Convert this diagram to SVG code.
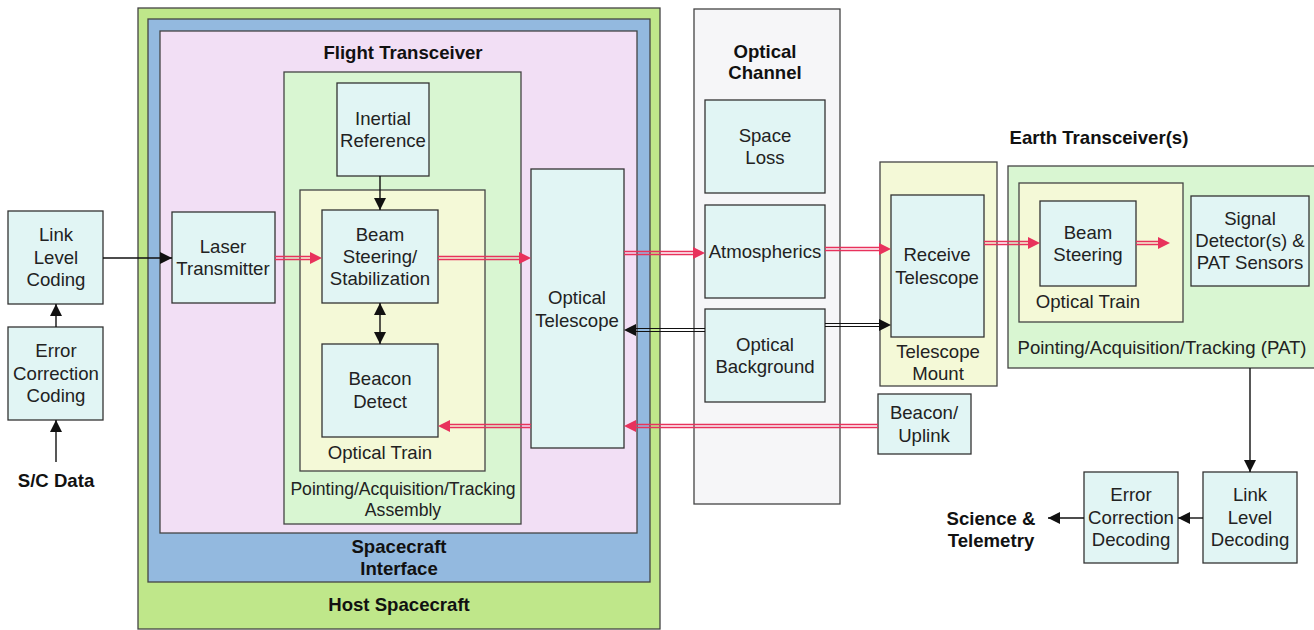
<svg xmlns="http://www.w3.org/2000/svg" width="1314" height="630" viewBox="0 0 1314 630">
<defs>
<style>
.box{fill:#e1f5f4;stroke:#333;stroke-width:1.3}
.t{font-family:"Liberation Sans",Arial,sans-serif;font-size:18.6px;fill:#222;text-anchor:middle}
.b{font-family:"Liberation Sans",Arial,sans-serif;font-size:18.6px;font-weight:bold;fill:#111;text-anchor:middle}
.cont{stroke:#444;stroke-width:1.3}
.blk{stroke:#111;stroke-width:1.4;fill:none}
.red{stroke:#e8325c;stroke-width:1.3;fill:none}
.dbl{stroke:#111;stroke-width:1.1;fill:none}
</style>
<marker id="ab" viewBox="0 0 12 12" refX="12" refY="6" markerWidth="12" markerHeight="12" markerUnits="userSpaceOnUse" orient="auto-start-reverse"><path d="M0,0 L12,6 L0,12 Z" fill="#111"/></marker>
<marker id="ar" viewBox="0 0 12 12" refX="12" refY="6" markerWidth="12" markerHeight="12" markerUnits="userSpaceOnUse" orient="auto"><path d="M0,0 L12,6 L0,12 Z" fill="#e8325c"/></marker>
</defs>
<rect width="1314" height="630" fill="#fff"/>

<g id="host-spacecraft">
<rect x="138" y="8" width="522" height="621" fill="#bfe78a" class="cont"/>
<text class="b" x="399" y="611">Host Spacecraft</text>
</g>
<g id="spacecraft-interface">
<rect x="148" y="19" width="502" height="563" fill="#93b9df" class="cont"/>
<text class="b" x="399" y="553">Spacecraft</text>
<text class="b" x="399" y="575">Interface</text>
</g>
<g id="flight-transceiver">
<rect x="160" y="31" width="477" height="502" fill="#f2dff5" class="cont"/>
<text class="b" x="403" y="59">Flight Transceiver</text>
</g>
<g id="pat-assembly">
<rect x="284" y="72" width="237" height="452" fill="#d9f6d2" class="cont"/>
<text class="t" x="403" y="495" style="font-size:17.6px">Pointing/Acquisition/Tracking</text>
<text class="t" x="403" y="516" style="font-size:17.6px">Assembly</text>
</g>
<g id="optical-train-flight">
<rect x="300" y="190" width="185" height="281" fill="#f4f9d7" class="cont"/>
<text class="t" x="380" y="459">Optical Train</text>
</g>
<g id="inertial-reference">
<rect x="337" y="83" width="92" height="93" class="box"/>
<text class="t" x="383" y="125">Inertial</text>
<text class="t" x="383" y="147">Reference</text>
</g>
<g id="beam-steering-stabilization">
<rect x="322" y="210" width="116" height="93" class="box"/>
<text class="t" x="380" y="241">Beam</text>
<text class="t" x="380" y="263">Steering/</text>
<text class="t" x="380" y="285">Stabilization</text>
</g>
<g id="beacon-detect">
<rect x="322" y="344" width="116" height="93" class="box"/>
<text class="t" x="380" y="385">Beacon</text>
<text class="t" x="380" y="408">Detect</text>
</g>
<g id="laser-transmitter">
<rect x="172" y="212" width="103" height="91" class="box"/>
<text class="t" x="223" y="253">Laser</text>
<text class="t" x="223" y="275">Transmitter</text>
</g>
<g id="optical-telescope">
<rect x="531" y="169" width="93" height="279" class="box"/>
<text class="t" x="577" y="304">Optical</text>
<text class="t" x="577" y="327">Telescope</text>
</g>
<g id="link-level-coding">
<rect x="8" y="211" width="95" height="93" class="box"/>
<text class="t" x="56" y="241">Link</text>
<text class="t" x="56" y="264">Level</text>
<text class="t" x="56" y="286">Coding</text>
</g>
<g id="error-correction-coding">
<rect x="8" y="327" width="95" height="93" class="box"/>
<text class="t" x="56" y="357">Error</text>
<text class="t" x="56" y="380">Correction</text>
<text class="t" x="56" y="402">Coding</text>
</g>
<g id="sc-data">
<text class="b" x="56" y="487">S/C Data</text>
</g>

<g id="optical-channel">
<rect x="694" y="9" width="146" height="495" fill="#f6f6f8" class="cont"/>
<text class="b" x="765" y="58">Optical</text>
<text class="b" x="765" y="79">Channel</text>
</g>
<g id="space-loss">
<rect x="705" y="100" width="120" height="93" class="box"/>
<text class="t" x="765" y="142">Space</text>
<text class="t" x="765" y="164">Loss</text>
</g>
<g id="atmospherics">
<rect x="705" y="205" width="120" height="93" class="box"/>
<text class="t" x="765" y="258">Atmospherics</text>
</g>
<g id="optical-background">
<rect x="705" y="309" width="120" height="93" class="box"/>
<text class="t" x="765" y="351">Optical</text>
<text class="t" x="765" y="373">Background</text>
</g>

<g id="telescope-mount">
<rect x="880" y="162" width="117" height="224" fill="#f4f9d7" class="cont"/>
<text class="t" x="938" y="358">Telescope</text>
<text class="t" x="938" y="380">Mount</text>
</g>
<g id="receive-telescope">
<rect x="891" y="195" width="93" height="142" class="box"/>
<text class="t" x="937" y="261">Receive</text>
<text class="t" x="937" y="284">Telescope</text>
</g>
<g id="beacon-uplink">
<rect x="878" y="394" width="93" height="60" class="box"/>
<text class="t" x="924" y="419">Beacon/</text>
<text class="t" x="924" y="442">Uplink</text>
</g>

<g id="earth-transceiver">
<text class="b" x="1099" y="144">Earth Transceiver(s)</text>
</g>
<g id="pat-earth">
<rect x="1008" y="166" width="310" height="202" fill="#d9f6d2" class="cont"/>
<text class="t" x="1162" y="354">Pointing/Acquisition/Tracking (PAT)</text>
</g>
<g id="optical-train-earth">
<rect x="1019" y="183" width="164" height="139" fill="#f4f9d7" class="cont"/>
<text class="t" x="1088" y="308">Optical Train</text>
</g>
<g id="beam-steering-earth">
<rect x="1040" y="201" width="96" height="85" class="box"/>
<text class="t" x="1088" y="239">Beam</text>
<text class="t" x="1088" y="261">Steering</text>
</g>
<g id="signal-detectors">
<rect x="1191" y="196" width="118" height="90" class="box"/>
<text class="t" x="1250" y="225">Signal</text>
<text class="t" x="1250" y="247">Detector(s) &amp;</text>
<text class="t" x="1250" y="269">PAT Sensors</text>
</g>
<g id="link-level-decoding">
<rect x="1203" y="472" width="94" height="91" class="box"/>
<text class="t" x="1250" y="501">Link</text>
<text class="t" x="1250" y="524">Level</text>
<text class="t" x="1250" y="546">Decoding</text>
</g>
<g id="error-correction-decoding">
<rect x="1084" y="472" width="94" height="91" class="box"/>
<text class="t" x="1131" y="501">Error</text>
<text class="t" x="1131" y="524">Correction</text>
<text class="t" x="1131" y="546">Decoding</text>
</g>
<g id="science-telemetry">
<text class="b" x="991" y="525">Science &amp;</text>
<text class="b" x="991" y="547">Telemetry</text>
</g>

<g id="connectors">
<path class="blk" d="M103,258 H172" marker-end="url(#ab)"/>
<path class="blk" d="M56,327 V304" marker-end="url(#ab)"/>
<path class="blk" d="M56,462 V420" marker-end="url(#ab)"/>
<path class="blk" d="M380,176 V210" marker-end="url(#ab)"/>
<path class="blk" d="M380,303 V344" marker-start="url(#ab)" marker-end="url(#ab)"/>
<path class="blk" d="M1250,368 V472" marker-end="url(#ab)"/>
<path class="blk" d="M1203,518 H1178" marker-end="url(#ab)"/>
<path class="blk" d="M1084,518 H1048" marker-end="url(#ab)"/>
<path class="dbl" d="M705,328.5 H634 M705,331.5 H634"/>
<path d="M705,330 H624" stroke="none" fill="none" marker-end="url(#ab)"/>
<path class="dbl" d="M825,323.5 H881 M825,326.5 H881"/>
<path d="M825,325 H891" stroke="none" fill="none" marker-end="url(#ab)"/>
<path class="red" d="M275,256.5 H312 M275,259.5 H312"/>
<path d="M275,258 H322" stroke="none" fill="none" marker-end="url(#ar)"/>
<path class="red" d="M438,256.5 H521 M438,259.5 H521"/>
<path d="M438,258 H531" stroke="none" fill="none" marker-end="url(#ar)"/>
<path class="red" d="M624,251.5 H695 M624,254.5 H695"/>
<path d="M624,253 H705" stroke="none" fill="none" marker-end="url(#ar)"/>
<path class="red" d="M825,247.5 H881 M825,250.5 H881"/>
<path d="M825,249 H891" stroke="none" fill="none" marker-end="url(#ar)"/>
<path class="red" d="M984,241.5 H1030 M984,244.5 H1030"/>
<path d="M984,243 H1040" stroke="none" fill="none" marker-end="url(#ar)"/>
<path class="red" d="M1136,241.5 H1160 M1136,244.5 H1160"/>
<path d="M1136,243 H1170" stroke="none" fill="none" marker-end="url(#ar)"/>
<path class="red" d="M878,424.5 H634 M878,427.5 H634"/>
<path d="M878,426 H624" stroke="none" fill="none" marker-end="url(#ar)"/>
<path class="red" d="M531,424.5 H448 M531,427.5 H448"/>
<path d="M531,426 H438" stroke="none" fill="none" marker-end="url(#ar)"/>
</g>
</svg>
